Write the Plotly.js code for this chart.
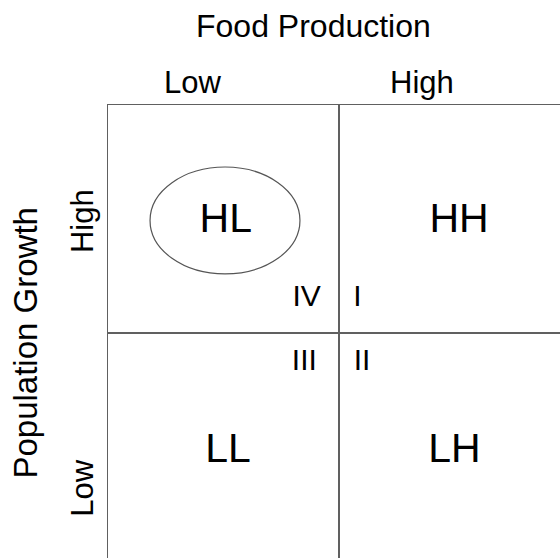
<!DOCTYPE html>
<html>
<head>
<meta charset="utf-8">
<script src="https://cdn.plot.ly/plotly-3.0.1.min.js"></script>
<style>html,body{margin:0;padding:0;background:#fff;}#chart{width:560px;height:558px;}</style>
</head>
<body>
<div id="chart"></div>
<script>
// Quadrant labels (Population Growth / Food Production)
const cellLabels = ["HL", "HH", "LL", "LH"];
const cellX = [0.51, 1.52, 0.52, 1.50];
const cellY = [1.49, 1.49, 0.48, 0.48];

// Roman numeral quadrant markers
const romanLabels = ["IV", "I", "III", "II"];
const romanX = [0.86, 1.08, 0.85, 1.10];
const romanY = [1.15, 1.15, 0.87, 0.87];

// Category tick labels
const foodLevels = ["Low", "High"];
const foodLabelX = [0.364, 1.359];
const popLevels = ["High", "Low"];
const popLabelY = [1.49, 0.32];

// Highlight ellipse around HL (data bounds)
const ellipseX = [0.182, 0.831];
const ellipseY = [1.259, 1.728];

const FONT = "Arial, 'Liberation Sans', Helvetica, sans-serif";

const traces = [
  {
    type: "scatter", mode: "text",
    x: cellX, y: cellY, text: cellLabels,
    textposition: "middle center",
    textfont: {family: FONT, size: 41, color: "#000"},
    hoverinfo: "skip", showlegend: false
  },
  {
    type: "scatter", mode: "text",
    x: romanX, y: romanY, text: romanLabels,
    textposition: "middle center",
    textfont: {family: FONT, size: 30, color: "#000"},
    hoverinfo: "skip", showlegend: false
  }
];

const annotations = [
  {text: "Food Production", xref: "paper", yref: "paper", x: 0.454, y: 1.174,
   xanchor: "center", yanchor: "middle", showarrow: false,
   font: {family: FONT, size: 32, color: "#000"}},
  {text: "Population Growth", xref: "paper", yref: "paper", x: -0.182, y: 0.475,
   xanchor: "center", yanchor: "middle", textangle: -90, showarrow: false,
   font: {family: FONT, size: 33, color: "#000"}}
];
foodLevels.forEach((t, i) => annotations.push({
  text: t, xref: "x", yref: "paper", x: foodLabelX[i], y: 1.05,
  xanchor: "center", yanchor: "middle", showarrow: false,
  font: {family: FONT, size: 31, color: "#000"}
}));
popLevels.forEach((t, i) => annotations.push({
  text: t, xref: "paper", yref: "y", x: -0.058, y: popLabelY[i],
  xanchor: "center", yanchor: "middle", textangle: -90, showarrow: false,
  font: {family: FONT, size: 31, color: "#000"}
}));

const layout = {
  width: 560, height: 558,
  margin: {l: 108, r: 0, t: 105, b: 0, pad: 0},
  paper_bgcolor: "#fff", plot_bgcolor: "#fff",
  xaxis: {range: [0, 452/231], tickvals: [1], side: "top", showline: true, linecolor: "#606060", linewidth: 1.5,
          showgrid: true, gridcolor: "#606060", gridwidth: 1.5,
          zeroline: false, showticklabels: false, ticks: "", fixedrange: true},
  yaxis: {range: [2 - 453/228, 2], tickvals: [1], side: "left", showline: true, linecolor: "#606060", linewidth: 1.5,
          showgrid: true, gridcolor: "#606060", gridwidth: 1.5,
          zeroline: false, showticklabels: false, ticks: "", fixedrange: true},
  shapes: [
    {type: "circle", xref: "x", yref: "y", x0: ellipseX[0], x1: ellipseX[1], y0: ellipseY[0], y1: ellipseY[1],
     line: {color: "#555", width: 1.2}}
  ],
  annotations: annotations,
  showlegend: false
};

Plotly.newPlot("chart", traces, layout, {displayModeBar: false, staticPlot: true});
</script>
</body>
</html>
